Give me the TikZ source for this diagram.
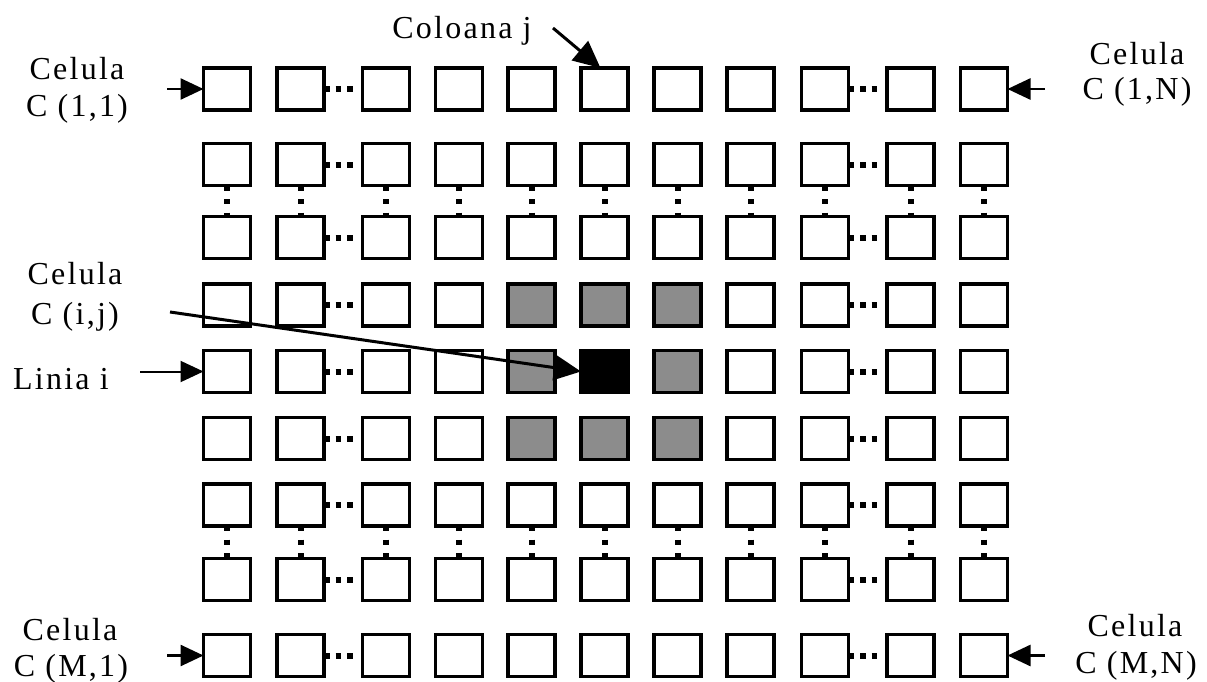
\documentclass[tikz,border=0pt]{standalone}
\usepackage{fontspec}
\setmainfont{Liberation Serif}[LetterSpace=7]
\usetikzlibrary{arrows.meta,calc}
\begin{document}
\begin{tikzpicture}[x=1pt,y=-1pt,
  cell/.style={draw, line width=3.4pt, minimum width=47pt, minimum height=42pt, inner sep=0pt, outer sep=0pt},
  hot/.style={fill=black!45},
  core/.style={fill=black},
  c-4-5/.style={hot}, c-4-6/.style={hot}, c-4-7/.style={hot},
  c-5-5/.style={hot}, c-5-6/.style={core}, c-5-7/.style={hot},
  c-6-5/.style={hot}, c-6-6/.style={hot}, c-6-7/.style={hot},
  hdots/.style={line width=6pt, dash pattern=on 5.5pt off 6pt, shorten >=5pt},
  vdots/.style={line width=6pt, dash pattern=on 5pt off 8.5pt},
  ptr/.style={line width=2.6pt, -{Triangle[length=23pt,width=21pt]}},
  bigptr/.style={line width=3pt, -{Triangle[length=27pt,width=25pt]}},
  lbl/.style={font=\fontsize{32}{36}\selectfont, anchor=base, inner sep=0pt}]
\useasboundingbox (0,0) rectangle (1207,682);
% grid of cells
\foreach \y [count=\r] in {89,164.5,237.5,305,371.5,438.5,505,579.5,655.5}{
  \foreach \x [count=\c] in {227,300.5,386,459,531.5,604.5,677.5,750.5,825,910.5,984}{
    \node[cell, c-\r-\c/.try] (b-\r-\c) at (\x,\y) {};
  }
}
% dotted links
\foreach \r in {1,...,9}{
  \draw[hdots] (b-\r-2.east) -- (b-\r-3.west);
  \draw[hdots] (b-\r-9.east) -- (b-\r-10.west);
}
\foreach \c in {1,...,11}{
  \draw[vdots] (b-2-\c.south) -- (b-3-\c.north);
  \draw[vdots] (b-7-\c.south) -- (b-8-\c.north);
}
% labels
\node[lbl] (tl1) at (77,80) {Celula};
\node[lbl] (tl2) at (77,117) {C (1,1)};
\node[lbl] (tr1) at (1137,65) {Celula};
\node[lbl] (tr2) at (1137,100) {C (1,N)};
\node[lbl] (col) at (462,39) {Coloana j};
\node[lbl] (ij1) at (75,284) {Celula};
\node[lbl] (ij2) at (75,324) {C (i,j)};
\node[lbl] (lin) at (61,389) {Linia i};
\node[lbl] (bl1) at (70,640) {Celula};
\node[lbl] (bl2) at (71,676) {C (M,1)};
\node[lbl] (br1) at (1135,636) {Celula};
\node[lbl] (br2) at (1136,673) {C (M,N)};
% arrows
\coordinate (p1) at (167,89);
\coordinate (p2) at (1045,89);
\coordinate (p3) at (167,655.5);
\coordinate (p4) at (1045,655.5);
\coordinate (p5) at (140,371.5);
\coordinate (p6) at (553,28);
\coordinate (p7) at (170,312);
\draw[ptr] (p1) -- (b-1-1.west);
\draw[ptr] (p2) -- (b-1-11.east);
\draw[ptr] (p3) -- (b-9-1.west);
\draw[ptr] (p4) -- (b-9-11.east);
\draw[ptr, line width=2pt] (p5) -- (b-5-1.west);
\draw[bigptr] (p6) -- ($(b-1-6.north)+(-4,0)$);
\draw[bigptr] (p7) -- (b-5-6.west);
\end{tikzpicture}
\end{document}
